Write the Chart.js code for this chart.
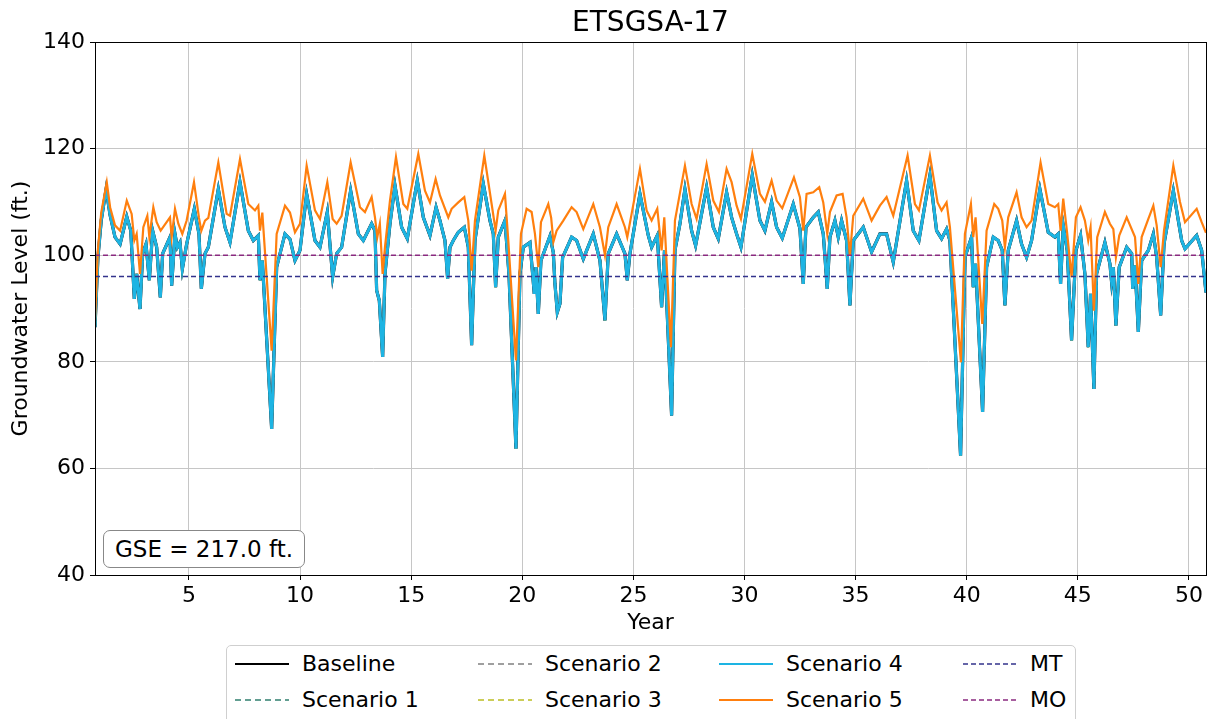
<!DOCTYPE html>
<html><head><meta charset="utf-8">
<script src="https://cdn.jsdelivr.net/npm/chart.js@4.4.1/dist/chart.umd.min.js"></script>
<style>
html,body{margin:0;padding:0;background:#fff;overflow:hidden;}
#wrap{position:relative;width:1220px;height:719px;font-family:"DejaVu Sans",sans-serif;color:#000;}
#c{position:absolute;left:0;top:0;}
#title{position:absolute;left:95px;width:1111px;top:4px;text-align:center;font-size:28px;line-height:36px;}
#gse{position:absolute;left:103px;top:530px;width:202px;height:38px;box-sizing:border-box;border:1px solid #888;border-radius:7px;background:#fff;font-size:23px;line-height:36px;text-align:center;}
#legend{position:absolute;left:226px;top:645px;width:850px;height:100px;box-sizing:border-box;border:1px solid #cfcfcf;border-radius:5px;background:#fff;}
.item{position:absolute;height:30px;font-size:22px;line-height:30px;white-space:nowrap;}
.item svg{position:absolute;left:0;top:0;}
.item span{position:absolute;left:69px;top:0;}
</style>
</head><body>
<div id="wrap">
<canvas id="c" width="1220" height="719"></canvas>
<div id="title">ETSGSA-17</div>
<div id="gse">GSE = 217.0 ft.</div>
<div id="legend"></div>
</div>
<script>
// ---- data ----
const xTicks = [5,10,15,20,25,30,35,40,45,50];
const yTicks = [40,60,80,100,120,140];
const xRange = [0.77, 50.77];
const mtLevel = 96;
const moLevel = 100;

const baseYears = [0.77,0.90,1.05,1.27,1.45,1.67,1.90,2.20,2.38,2.54,2.645,2.795,2.915,3.065,3.215,3.365,3.545,3.71,3.815,4.145,4.22,4.37,4.475,4.595,4.70,4.895,5.24,5.45,5.555,5.72,5.87,6.32,6.62,6.845,7.295,7.67,7.895,8.12,8.195,8.30,8.72,8.945,9.32,9.545,9.77,9.995,10.295,10.67,10.895,11.225,11.465,11.645,11.87,12.275,12.62,12.845,13.22,13.37,13.445,13.565,13.715,13.82,14.045,14.27,14.57,14.825,15.275,15.545,15.845,16.12,16.295,16.52,16.64,16.745,16.895,17.12,17.39,17.57,17.72,17.87,18.245,18.545,18.695,18.80,18.92,19.22,19.40,19.715,19.895,20.045,20.345,20.54,20.615,20.72,20.84,21.245,21.395,21.47,21.575,21.695,21.815,22.22,22.445,22.745,23.195,23.495,23.72,23.87,24.245,24.62,24.725,24.845,25.295,25.67,25.82,26.075,26.27,26.40,26.72,26.87,27.095,27.32,27.62,27.80,28.295,28.595,28.82,29.195,29.42,29.645,29.84,30.35,30.695,30.92,31.22,31.445,31.70,32.195,32.495,32.645,32.765,33.095,33.32,33.545,33.725,33.845,34.07,34.22,34.37,34.595,34.745,34.895,35.345,35.72,36.095,36.395,36.695,37.295,37.595,37.85,38.345,38.645,38.87,39.095,39.245,39.725,39.92,40.22,40.295,40.40,40.715,40.895,41.195,41.42,41.60,41.72,41.87,42.245,42.47,42.695,42.92,43.295,43.67,43.97,44.12,44.225,44.345,44.525,44.72,44.915,45.125,45.32,45.47,45.575,45.725,45.845,46.22,46.445,46.52,46.60,46.715,46.865,47.2,47.425,47.47,47.575,47.725,47.875,48.175,48.4,48.55,48.73,48.88,49.3,49.675,49.825,50.35,50.575,50.77];
const baseline = [86.5,99.5,106.5,112.4,107.5,103.4,102.1,107.25,104.6,91.8,96.5,89.9,100.3,102.1,95.3,104.6,101.5,92.1,100.3,103.4,94.3,104.0,101.5,102.4,97.4,102.1,108.7,104.0,93.7,100.3,101.5,112.4,105.25,102.4,113.7,104.6,102.75,103.7,95.3,99.0,67.4,97.75,104.0,103.0,99.0,100.9,111.5,102.75,101.5,108.1,95.9,100.3,101.5,112.1,104.0,102.75,105.9,104.6,93.4,91.5,80.9,96.5,105.9,113.1,105.25,103.1,114.0,107.1,103.7,109.0,106.5,102.75,95.6,101.5,102.75,104.3,105.25,101.5,83.1,102.75,113.4,106.5,104.0,94.0,103.4,106.5,96.5,63.7,96.5,101.5,102.4,92.75,97.75,89.0,99.0,103.6,100.5,94.6,89.3,90.9,99.6,103.4,102.75,99.3,104.0,99.0,87.75,100.3,104.0,100.3,95.3,100.3,111.5,103.7,101.5,103.7,90.25,100.9,69.9,100.9,105.9,112.4,104.6,101.8,112.75,105.25,103.1,111.8,107.1,104.0,101.5,115.0,106.5,104.6,110.0,105.25,103.2,109.6,105.0,94.6,105.25,107.1,108.1,104.0,93.7,103.4,106.5,103.4,106.5,102.75,90.6,102.75,105.25,100.6,104.0,104.0,98.7,114.0,104.6,102.75,115.0,104.6,103.1,104.9,102.75,62.4,99.6,103.4,94.0,98.4,70.6,97.75,103.4,102.75,100.9,90.6,100.9,106.5,102.1,99.6,102.75,112.4,104.3,103.4,104.0,94.6,105.6,100.9,84.0,100.9,103.7,96.5,82.75,92.75,74.9,96.5,102.4,98.4,95.0,97.75,86.8,97.75,101.5,100.3,93.7,98.1,85.6,99.0,100.9,104.0,99.6,88.7,102.1,112.1,102.75,101.2,103.7,100.9,93.0];
// scenarios 1-4 overlap the baseline in the reference
const scenario1 = baseline;
const scenario2 = baseline;
const scenario3 = baseline;
const scenario4 = baseline;

const s5Years = [0.77,0.90,1.05,1.30,1.45,1.67,1.90,2.20,2.42,2.54,2.645,2.795,2.945,3.125,3.215,3.395,3.545,3.725,4.145,4.22,4.37,4.52,4.70,4.895,5.225,5.45,5.555,5.72,5.87,6.32,6.695,6.845,7.295,7.67,7.97,8.12,8.195,8.30,8.72,8.945,9.32,9.545,9.77,9.995,10.295,10.67,10.895,11.225,11.465,11.645,11.87,12.275,12.695,12.92,13.22,13.37,13.475,13.59,13.715,13.82,14.045,14.315,14.645,14.825,15.32,15.62,15.845,16.10,16.295,16.67,16.82,17.12,17.39,17.57,17.72,17.87,18.29,18.62,18.80,18.92,19.22,19.37,19.715,19.94,20.195,20.42,20.57,20.72,20.84,21.17,21.30,21.40,21.545,21.845,22.22,22.445,22.745,23.195,23.495,23.72,23.87,24.245,24.62,24.725,24.92,25.295,25.595,25.82,26.075,26.27,26.39,26.69,26.87,27.32,27.62,27.845,28.295,28.595,28.85,29.195,29.42,29.645,29.84,30.35,30.695,30.92,31.22,31.445,31.70,32.225,32.495,32.645,32.795,33.095,33.365,33.545,33.725,33.845,34.145,34.415,34.595,34.745,34.895,35.345,35.72,36.095,36.395,36.695,37.34,37.67,37.85,38.345,38.69,38.87,39.095,39.245,39.74,39.92,40.19,40.295,40.40,40.70,40.895,41.24,41.42,41.60,41.72,41.87,42.245,42.47,42.695,42.92,43.325,43.67,43.97,44.12,44.225,44.345,44.525,44.72,44.915,45.125,45.32,45.47,45.575,45.725,45.875,46.22,46.445,46.60,46.715,46.865,47.2,47.575,47.725,47.875,48.175,48.4,48.55,48.73,48.88,49.3,49.6,49.825,50.35,50.575,50.77];
const scenario5 = [87.5,101.0,108.0,113.7,109.0,105.6,104.6,110.25,107.75,102.75,104.0,96.5,105.25,107.4,103.4,109.0,106.2,104.6,107.1,103.4,108.7,105.9,104.0,106.5,113.7,107.0,104.6,106.5,107.0,117.4,107.75,107.4,118.0,109.6,108.4,109.3,104.6,108.0,82.1,104.0,109.3,108.0,104.3,105.9,116.8,108.4,106.8,113.7,106.8,105.9,107.4,117.4,109.0,108.1,110.9,107.1,103.4,105.9,96.5,101.5,110.25,118.4,109.6,108.7,119.0,112.1,109.9,114.3,111.2,107.1,108.7,109.9,110.9,106.5,97.1,106.5,118.7,109.6,104.6,108.4,111.5,102.75,80.25,104.0,108.7,108.1,104.0,97.75,106.2,109.6,107.0,102.5,104.6,106.5,109.0,108.1,104.9,109.6,105.25,100.0,105.25,109.6,105.25,103.4,107.75,116.2,108.4,106.5,108.7,100.9,107.1,82.75,106.5,116.8,109.6,106.8,117.1,110.25,108.1,116.2,113.7,109.3,106.8,119.0,111.5,110.0,114.0,110.25,108.8,114.6,110.9,104.6,111.5,111.8,112.75,109.9,104.0,108.1,111.2,111.5,107.1,100.0,107.4,110.6,106.5,109.3,110.9,107.4,118.7,109.6,108.4,118.7,109.9,108.4,109.9,105.25,79.9,104.0,109.6,103.4,107.1,87.1,104.6,109.6,108.7,106.5,101.5,107.1,111.8,107.1,105.25,106.5,117.4,109.6,109.0,109.6,104.6,110.6,104.0,95.9,107.1,109.0,106.5,102.75,105.25,89.6,103.4,108.1,105.9,104.9,99.6,103.7,107.1,103.4,94.6,103.4,106.8,109.3,105.6,97.75,104.6,116.8,110.0,106.2,108.7,106.2,104.2];

// ---- styles ----
const series = [
  {label:'Baseline',   xs:baseYears, ys:baseline,  color:'#000000', dash:[],    width:3.2},
  {label:'Scenario 1', xs:baseYears, ys:scenario1, color:'#2f7f6e', dash:[6,4], width:2},
  {label:'Scenario 2', xs:baseYears, ys:scenario2, color:'#808080', dash:[6,4], width:2},
  {label:'Scenario 3', xs:baseYears, ys:scenario3, color:'#bcbd22', dash:[6,4], width:2},
  {label:'Scenario 4', xs:baseYears, ys:scenario4, color:'#1db4e3', dash:[],    width:3},
  {label:'Scenario 5', xs:s5Years,   ys:scenario5, color:'#ff7f0e', dash:[],    width:2.2},
  {label:'MT', xs:xRange, ys:[mtLevel, mtLevel], color:'#33338c', dash:[5,3], width:1.5},
  {label:'MO', xs:xRange, ys:[moLevel, moLevel], color:'#8a2a80', dash:[5,3], width:1.5}
];

const datasets = series.map((s, i) => ({
  label: s.label,
  data: s.xs.map((x, j) => ({x: x, y: s.ys[j]})),
  borderColor: s.color,
  backgroundColor: s.color,
  borderDash: s.dash,
  borderWidth: s.width,
  pointRadius: 0,
  fill: false,
  tension: 0,
  order: series.length - i
}));

const framePlugin = {
  id: 'frame',
  afterDatasetsDraw(chart) {
    const {ctx, chartArea: a} = chart;
    ctx.save();
    ctx.strokeStyle = '#000';
    ctx.lineWidth = 1;
    ctx.strokeRect(Math.round(a.left) + 0.5, Math.round(a.top) + 0.5, Math.round(a.right - a.left), Math.round(a.bottom - a.top));
    ctx.restore();
  }
};

const tickFont = {family: 'DejaVu Sans', size: 22};
new Chart(document.getElementById('c'), {
  type: 'line',
  data: {datasets},
  plugins: [framePlugin],
  options: {
    responsive: false,
    animation: false,
    devicePixelRatio: 1,
    parsing: false,
    layout: {padding: {top: 42, right: 14, left: 0, bottom: 0}},
    plugins: {legend: {display: false}, title: {display: false}, tooltip: {enabled: false}},
    scales: {
      x: {
        type: 'linear', min: xRange[0], max: xRange[1],
        afterBuildTicks: sc => { sc.ticks = xTicks.map(v => ({value: v})); },
        afterFit: sc => { sc.height = 144; },
        grid: {color: '#c6c6c6', lineWidth: 1, drawTicks: true, tickLength: 5, tickColor: '#000'},
        border: {display: true, color: '#000', width: 1},
        ticks: {font: tickFont, color: '#000', padding: 3, maxRotation: 0, autoSkip: false},
        title: {display: true, text: 'Year', font: tickFont, color: '#000', padding: {top: 0, bottom: 83}}
      },
      y: {
        type: 'linear', min: 40, max: 140,
        afterBuildTicks: sc => { sc.ticks = yTicks.map(v => ({value: v})); },
        afterFit: sc => { sc.width = 95; },
        grid: {color: '#c6c6c6', lineWidth: 1, drawTicks: true, tickLength: 5, tickColor: '#000'},
        border: {display: true, color: '#000', width: 1},
        ticks: {font: tickFont, color: '#000', padding: 5, autoSkip: false},
        title: {display: true, text: 'Groundwater Level (ft.)', font: tickFont, color: '#000', padding: {top: 8, bottom: 0}}
      }
    }
  }
});

// ---- HTML legend (4 columns, column-major) ----
const legendPos = [[6,3],[6,39],[249,3],[249,39],[490,3],[490,39],[734,3],[734,39]];
const leg = document.getElementById('legend');
series.forEach((s, i) => {
  const d = document.createElement('div');
  d.className = 'item';
  d.style.left = legendPos[i][0] + 'px';
  d.style.top = legendPos[i][1] + 'px';
  const dash = s.dash.length ? ` stroke-dasharray="${s.dash.join(',')}"` : '';
  d.innerHTML = `<svg width="60" height="30"><line x1="2" y1="15" x2="56" y2="15" stroke="${s.color}" stroke-width="${s.dash.length ? 1.5 : 2.2}"${dash}/></svg><span>${s.label}</span>`;
  leg.appendChild(d);
});
</script>
</body></html>
